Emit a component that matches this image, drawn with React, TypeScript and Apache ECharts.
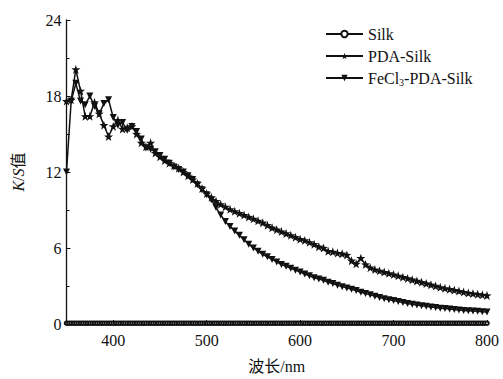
import React, { useEffect, useRef } from 'react';
import * as echarts from 'echarts';

const wavelengths = [
  350, 355, 360, 365, 370, 375, 380, 385, 390, 395, 400, 405, 410, 415, 420, 425, 430, 435, 440, 445,
  450, 455, 460, 465, 470, 475, 480, 485, 490, 495, 500, 505, 510, 515, 520, 525, 530, 535, 540, 545,
  550, 555, 560, 565, 570, 575, 580, 585, 590, 595, 600, 605, 610, 615, 620, 625, 630, 635, 640, 645,
  650, 655, 660, 665, 670, 675, 680, 685, 690, 695, 700, 705, 710, 715, 720, 725, 730, 735, 740, 745,
  750, 755, 760, 765, 770, 775, 780, 785, 790, 795, 800,
];

const silkWavelengths = [
  350, 352.5, 355, 357.5, 360, 362.5, 365, 367.5, 370, 372.5, 375, 377.5, 380, 382.5, 385, 387.5, 390, 392.5, 395, 397.5,
  400, 402.5, 405, 407.5, 410, 412.5, 415, 417.5, 420, 422.5, 425, 427.5, 430, 432.5, 435, 437.5, 440, 442.5, 445, 447.5,
  450, 452.5, 455, 457.5, 460, 462.5, 465, 467.5, 470, 472.5, 475, 477.5, 480, 482.5, 485, 487.5, 490, 492.5, 495, 497.5,
  500, 502.5, 505, 507.5, 510, 512.5, 515, 517.5, 520, 522.5, 525, 527.5, 530, 532.5, 535, 537.5, 540, 542.5, 545, 547.5,
  550, 552.5, 555, 557.5, 560, 562.5, 565, 567.5, 570, 572.5, 575, 577.5, 580, 582.5, 585, 587.5, 590, 592.5, 595, 597.5,
  600, 602.5, 605, 607.5, 610, 612.5, 615, 617.5, 620, 622.5, 625, 627.5, 630, 632.5, 635, 637.5, 640, 642.5, 645, 647.5,
  650, 652.5, 655, 657.5, 660, 662.5, 665, 667.5, 670, 672.5, 675, 677.5, 680, 682.5, 685, 687.5, 690, 692.5, 695, 697.5,
  700, 702.5, 705, 707.5, 710, 712.5, 715, 717.5, 720, 722.5, 725, 727.5, 730, 732.5, 735, 737.5, 740, 742.5, 745, 747.5,
  750, 752.5, 755, 757.5, 760, 762.5, 765, 767.5, 770, 772.5, 775, 777.5, 780, 782.5, 785, 787.5, 790, 792.5, 795, 797.5,
  800,
];

const silk = [
  0.06, 0.06, 0.06, 0.06, 0.06, 0.06, 0.06, 0.06, 0.06, 0.06, 0.06, 0.06, 0.06, 0.06, 0.06, 0.06, 0.06, 0.06, 0.06, 0.06,
  0.06, 0.06, 0.06, 0.06, 0.06, 0.06, 0.06, 0.06, 0.06, 0.06, 0.06, 0.06, 0.06, 0.06, 0.06, 0.06, 0.06, 0.06, 0.06, 0.06,
  0.06, 0.06, 0.06, 0.06, 0.06, 0.06, 0.06, 0.06, 0.06, 0.06, 0.06, 0.06, 0.06, 0.06, 0.06, 0.06, 0.06, 0.06, 0.06, 0.06,
  0.06, 0.06, 0.06, 0.06, 0.06, 0.06, 0.06, 0.06, 0.06, 0.06, 0.06, 0.06, 0.06, 0.06, 0.06, 0.06, 0.06, 0.06, 0.06, 0.06,
  0.06, 0.06, 0.06, 0.06, 0.06, 0.06, 0.06, 0.06, 0.06, 0.06, 0.06, 0.06, 0.06, 0.06, 0.06, 0.06, 0.06, 0.06, 0.06, 0.06,
  0.06, 0.06, 0.06, 0.06, 0.06, 0.06, 0.06, 0.06, 0.06, 0.06, 0.06, 0.06, 0.06, 0.06, 0.06, 0.06, 0.06, 0.06, 0.06, 0.06,
  0.06, 0.06, 0.06, 0.06, 0.06, 0.06, 0.06, 0.06, 0.06, 0.06, 0.06, 0.06, 0.06, 0.06, 0.06, 0.06, 0.06, 0.06, 0.06, 0.06,
  0.06, 0.06, 0.06, 0.06, 0.06, 0.06, 0.06, 0.06, 0.06, 0.06, 0.06, 0.06, 0.06, 0.06, 0.06, 0.06, 0.06, 0.06, 0.06, 0.06,
  0.06, 0.06, 0.06, 0.06, 0.06, 0.06, 0.06, 0.06, 0.06, 0.06, 0.06, 0.06, 0.06, 0.06, 0.06, 0.06, 0.06, 0.06, 0.06, 0.06,
  0.06,
];

const pdaSilk = [
  17.6, 17.7, 20.1, 18.4, 16.4, 16.4, 17.5, 16.6, 15.7, 14.8, 15.6, 16.1, 15.4, 15.5, 15.6, 15.0, 14.3, 14.0, 14.3, 13.5,
  13.2, 12.9, 12.7, 12.5, 12.3, 12.0, 11.7, 11.4, 11.1, 10.7, 10.3, 10.0, 9.7, 9.45, 9.25, 9.05, 8.9, 8.75, 8.6, 8.45,
  8.3, 8.15, 8.0, 7.8, 7.6, 7.45, 7.3, 7.15, 7.0, 6.85, 6.7, 6.6, 6.45, 6.3, 6.1, 6.0, 5.75, 5.7, 5.6, 5.55,
  5.45, 5.0, 4.75, 5.2, 4.7, 4.45, 4.3, 4.2, 4.1, 4.0, 3.9, 3.8, 3.7, 3.6, 3.5, 3.4, 3.3, 3.2, 3.1, 3.0,
  2.9, 2.82, 2.75, 2.68, 2.6, 2.52, 2.45, 2.4, 2.35, 2.3, 2.25,
];

const fePdaSilk = [
  12.0, 17.6, 19.0, 17.6, 17.3, 18.0, 17.2, 16.6, 17.4, 17.7, 16.3, 15.7, 15.9, 15.3, 15.6, 15.2, 14.6, 13.9, 13.8, 13.6,
  13.3, 13.0, 12.7, 12.4, 12.2, 12.0, 11.7, 11.4, 11.0, 10.6, 10.2, 9.8, 9.2, 8.6, 8.1, 7.7, 7.35, 7.0, 6.65, 6.3,
  6.0, 5.75, 5.5, 5.3, 5.1, 4.9, 4.7, 4.55, 4.4, 4.25, 4.1, 3.95, 3.8, 3.65, 3.55, 3.45, 3.3, 3.2, 3.05, 2.95,
  2.85, 2.75, 2.65, 2.5, 2.4, 2.3, 2.2, 2.1, 2.0, 1.92, 1.85, 1.78, 1.7, 1.62, 1.55, 1.5, 1.45, 1.4, 1.35, 1.3,
  1.25, 1.22, 1.18, 1.14, 1.1, 1.07, 1.05, 1.02, 1.0, 0.97, 0.95,
];

const seriesNames = ['Silk', 'PDA-Silk', 'FeCl3-PDA-Silk'];
const xTicks = [400, 500, 600, 700, 800];

const FONT = 'Liberation Serif, Noto Sans CJK SC, serif';
const STAR =
  'path://M0,-10L2.35,-3.24L9.51,-3.09L3.8,1.24L5.88,8.09L0,4L-5.88,8.09L-3.8,1.24L-9.51,-3.09L-2.35,-3.24Z';

export default function App() {
  const ref = useRef<HTMLDivElement>(null);
  useEffect(() => {
    if (!ref.current) return;
    const chart = echarts.init(ref.current, undefined, { renderer: 'svg' });
    const toPairs = (xs: number[], arr: number[]) => xs.map((w, i) => [w, arr[i]]);
    const lineStyle = { color: '#111', width: 1.5 };
    chart.setOption({
      animation: false,
      backgroundColor: '#fff',
      grid: { left: 66.5, right: 16, top: 20, bottom: 49 },
      legend: {
        orient: 'vertical',
        left: 320,
        top: 21,
        itemWidth: 37,
        itemHeight: 8,
        itemGap: 6,
        data: seriesNames,
        formatter: (name: string) => (name === 'FeCl3-PDA-Silk' ? 'FeCl{sub|3}-PDA-Silk' : name),
        textStyle: {
          fontFamily: FONT,
          fontSize: 16,
          color: '#111',
          rich: {
            sub: { fontFamily: FONT, fontSize: 10, color: '#111', verticalAlign: 'bottom', padding: [8, 0, 0, 0] },
          },
        },
      },
      xAxis: {
        type: 'value',
        min: 350,
        max: 800,
        name: '波长/nm',
        nameLocation: 'middle',
        nameGap: 34,
        nameTextStyle: { fontFamily: FONT, fontSize: 16, color: '#111' },
        axisLine: { lineStyle: { color: '#111', width: 1.3 } },
        axisTick: { inside: true, length: 4, customValues: xTicks, lineStyle: { color: '#111' } },
        axisLabel: { customValues: xTicks, fontFamily: FONT, fontSize: 16, color: '#111', margin: 8 },
        splitLine: { show: false },
      },
      yAxis: {
        type: 'value',
        min: 0,
        max: 24,
        interval: 6,
        name: '{i|K}/{i|S}值',
        nameLocation: 'middle',
        nameGap: 40,
        nameRotate: 90,
        nameTextStyle: {
          fontFamily: FONT,
          fontSize: 16,
          color: '#111',
          rich: { i: { fontFamily: FONT, fontSize: 16, fontStyle: 'italic', color: '#111' } },
        },
        axisLine: { show: true, lineStyle: { color: '#111', width: 1.3 } },
        axisTick: { show: true, inside: true, length: 4, lineStyle: { color: '#111' } },
        minorTick: { show: true, splitNumber: 2, length: 3, lineStyle: { color: '#111' } },
        axisLabel: { fontFamily: FONT, fontSize: 16, color: '#111', margin: 5 },
        splitLine: { show: false },
      },
      series: [
        {
          name: 'Silk',
          type: 'line',
          data: toPairs(silkWavelengths, silk),
          symbol: 'emptyCircle',
          symbolSize: 3.5,
          lineStyle: { color: '#111', width: 1 },
          itemStyle: { color: '#111', borderWidth: 0.9 },
        },
        {
          name: 'PDA-Silk',
          type: 'line',
          data: toPairs(wavelengths, pdaSilk),
          symbol: STAR,
          symbolSize: 9,
          lineStyle,
          itemStyle: { color: '#111' },
        },
        {
          name: 'FeCl3-PDA-Silk',
          type: 'line',
          data: toPairs(wavelengths, fePdaSilk),
          symbol: 'triangle',
          symbolRotate: 180,
          symbolSize: 7,
          lineStyle,
          itemStyle: { color: '#111' },
        },
      ],
    });
    return () => chart.dispose();
  }, []);
  return <div ref={ref} style={{ position: 'fixed', left: 0, top: 0, width: 503, height: 379 }} />;
}
